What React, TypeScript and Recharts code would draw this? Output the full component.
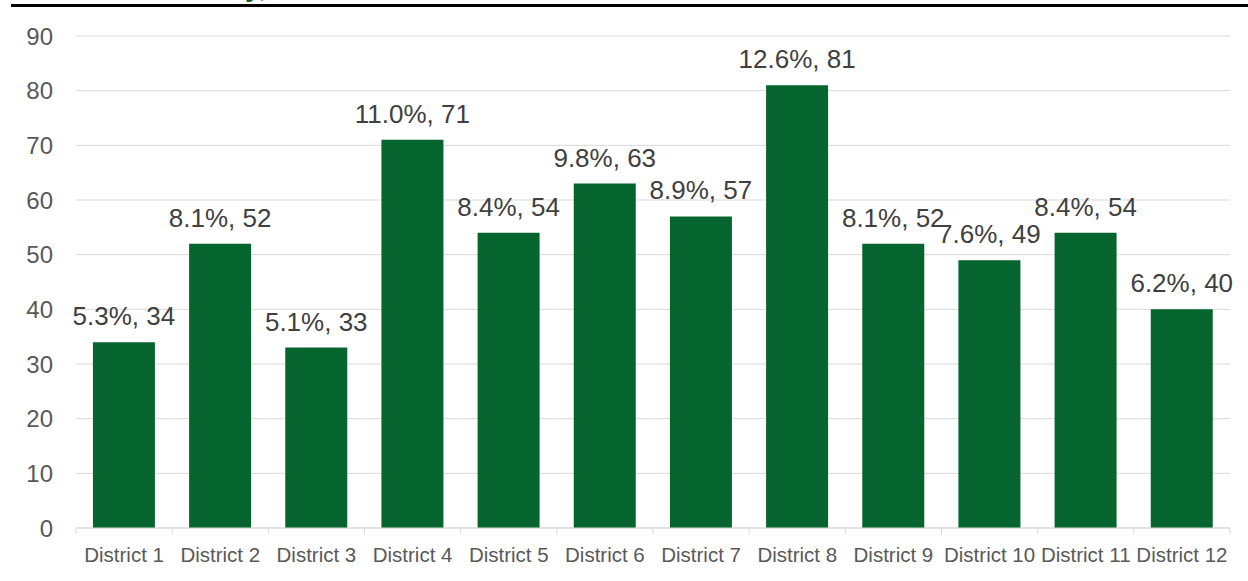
import { BarChart, Bar, XAxis, YAxis, CartesianGrid, LabelList } from "recharts";

const districts = [
  "District 1", "District 2", "District 3", "District 4", "District 5", "District 6",
  "District 7", "District 8", "District 9", "District 10", "District 11", "District 12",
];
const counts = [34, 52, 33, 71, 54, 63, 57, 81, 52, 49, 54, 40];
const shares = [5.3, 8.1, 5.1, 11.0, 8.4, 9.8, 8.9, 12.6, 8.1, 7.6, 8.4, 6.2];
const yTicks = [0, 10, 20, 30, 40, 50, 60, 70, 80, 90];

const data = districts.map((district, i) => ({
  district,
  count: counts[i],
  label: `${shares[i].toFixed(1)}%, ${counts[i]}`,
}));

const GREEN = "#06652F";
const GRID = "#d9d9d9";

// excel-style ticks: marks sit on the category boundaries, not the centres
const DistrictTick = (props: any) => {
  const { x, y, payload, index } = props;
  const half = payload && payload.offset ? payload.offset : 48;
  const axisY = y - 19;
  return (
    <g>
      <line x1={x - half} x2={x - half} y1={axisY} y2={axisY + 6} stroke={GRID} />
      {index === districts.length - 1 && (
        <line x1={x + half} x2={x + half} y1={axisY} y2={axisY + 6} stroke={GRID} />
      )}
      <text x={x} y={y} dy="0.71em" textAnchor="middle" fill="#595959" fontSize={20.5}>
        {payload.value}
      </text>
    </g>
  );
};

// plain text so the label never wraps to the bar width
const BarLabel = (props: any) => {
  const { x, y, width, value } = props;
  return (
    <text x={x + width / 2} y={y - 17} textAnchor="middle" fill="#404040" fontSize={26}>
      {value}
    </text>
  );
};

export default function App() {
  return (
    <div
      style={{
        position: "relative",
        width: 1248,
        height: 581,
        overflow: "hidden",
        fontFamily: "'Liberation Sans', Arial, sans-serif",
        background: "#fff",
      }}
    >
      <style>{"body{margin:0}"}</style>

      {/* title sits above the crop, only its descenders show */}
      <span
        style={{
          position: "absolute",
          left: 245,
          top: -27,
          fontSize: 28,
          lineHeight: 1,
          fontWeight: 700,
          color: GREEN,
        }}
      >
        y,
      </span>
      <div style={{ position: "absolute", left: 11, top: 4, width: 1237, height: 3, background: "#000" }} />

      <BarChart
        width={1248}
        height={581}
        data={data}
        margin={{ top: 36, right: 18, left: 0, bottom: 0 }}
        barCategoryGap="17.6%"
      >
        <CartesianGrid vertical={false} stroke={GRID} />
        <XAxis
          dataKey="district"
          height={53}
          interval={0}
          axisLine={{ stroke: GRID }}
          tickLine={false}
          tickSize={6}
          tickMargin={13}
          tick={<DistrictTick />}
        />
        <YAxis
          width={76}
          domain={[0, 90]}
          ticks={yTicks}
          interval={0}
          axisLine={false}
          tickLine={false}
          tickSize={6}
          tickMargin={17}
          tick={{ fill: "#595959", fontSize: 24 }}
        />
        <Bar dataKey="count" fill={GREEN} isAnimationActive={false}>
          <LabelList dataKey="label" position="top" content={<BarLabel />} />
        </Bar>
      </BarChart>
    </div>
  );
}
